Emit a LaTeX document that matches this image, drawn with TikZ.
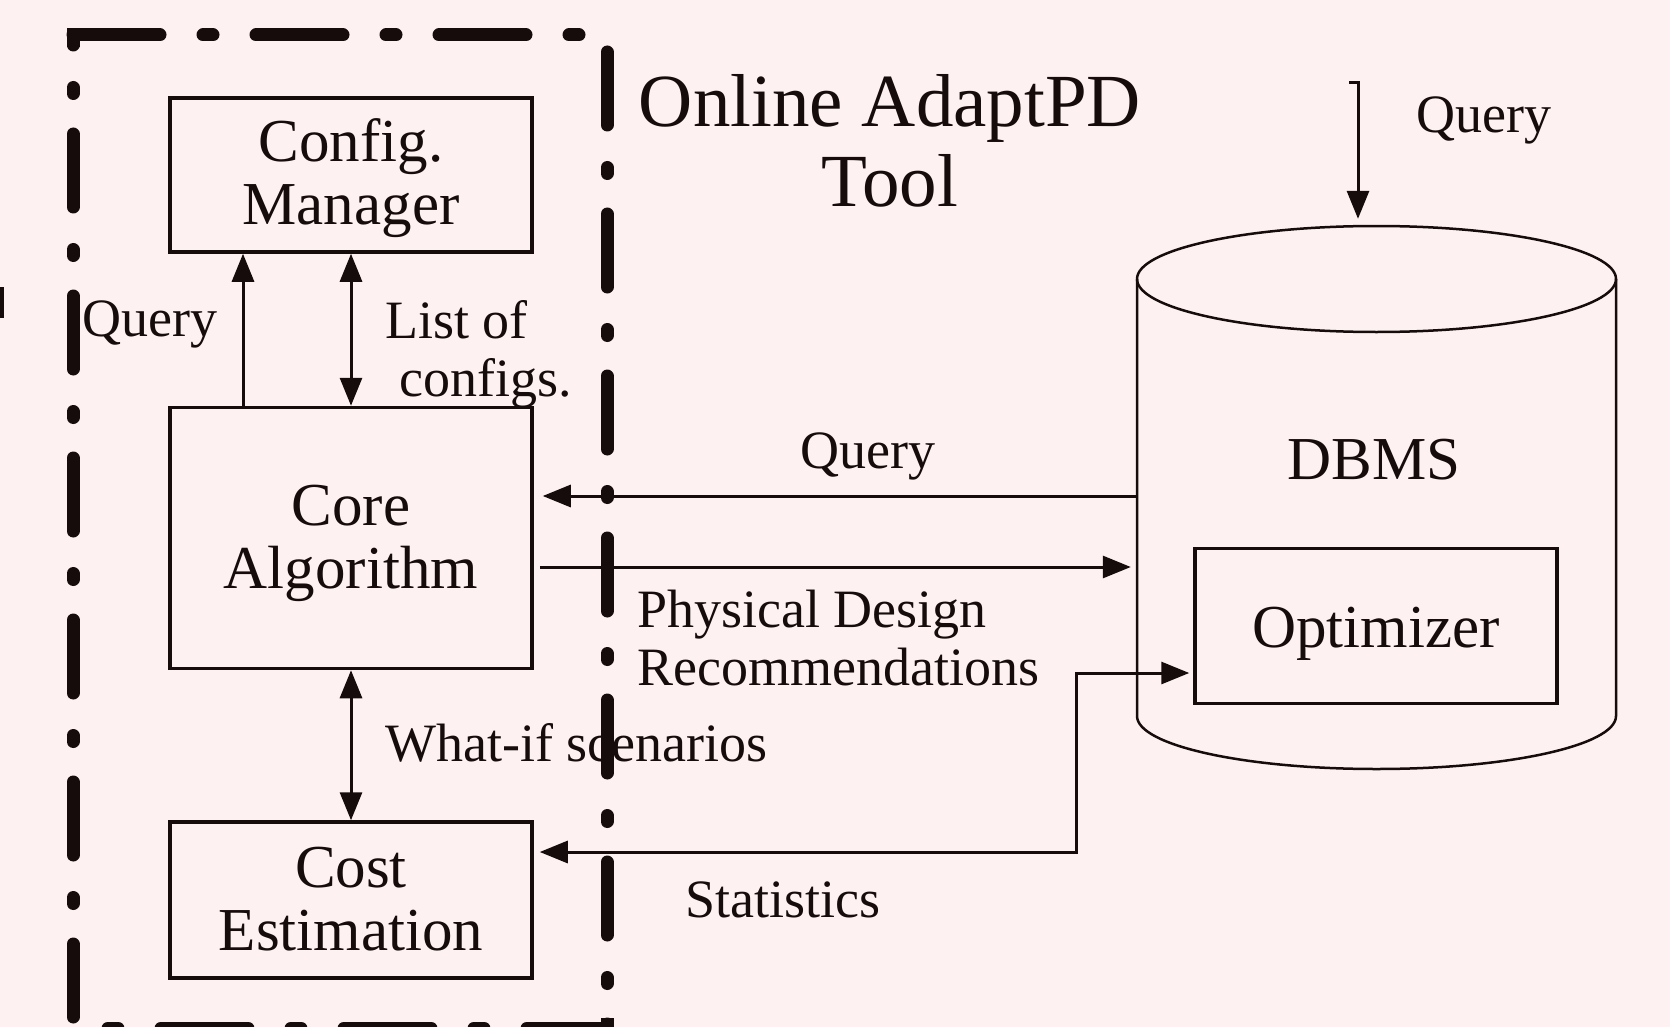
\documentclass[tikz,border=0pt]{standalone}
\usepackage{fontspec}
\setmainfont{Liberation Serif}
\usetikzlibrary{arrows.meta}
\definecolor{paper}{RGB}{253,242,241}
\definecolor{ink}{RGB}{22,12,12}

\begin{document}
\begin{tikzpicture}[x=1pt,y=-1pt,
  every node/.style={text=ink},
  box/.style={draw=ink, line width=3.5pt, inner sep=0pt, align=center,
    font=\fontsize{61}{63}\selectfont, text height=110pt, text depth=10pt},
  lbl/.style={inner sep=0pt, font=\fontsize{54}{58}\selectfont},
  link/.style={draw=ink, line width=3pt, -{Triangle[length=28pt,width=22pt]}},
  dlink/.style={draw=ink, line width=3pt,
    {Triangle[length=28pt,width=22pt]}-{Triangle[length=28pt,width=22pt]}},
  rim/.style={draw=ink, line width=13pt, line cap=round},
  hrim/.style={rim, dash pattern=on 87pt off 43pt on 10pt off 43pt},
  vrim/.style={rim, dash pattern=on 73pt off 42.5pt on 6pt off 40.5pt},
  shell/.style={draw=ink, line width=2.5pt},
]
% page background
\fill[paper] (0,0) rectangle (1670,1027);
\useasboundingbox (0,0) rectangle (1670,1027);

% tool components
\node[box, minimum width=362pt, minimum height=154pt] (cfg)  at (351,175) {Config.\\Manager};
\node[box, minimum width=362pt, minimum height=261pt] (core) at (351,538) {Core\\Algorithm};
\node[box, minimum width=362pt, minimum height=156pt] (cost) at (351,900) {Cost\\Estimation};

% DBMS cylinder
\node[minimum width=479pt, minimum height=543pt, inner sep=0pt] (db) at (1376.5,497.5) {};
\draw[shell] (1376.5,279) ellipse [x radius=239.5pt, y radius=53pt];
\draw[shell] (1137,279) -- (1137,716)
  arc[start angle=180, end angle=360, x radius=239.5pt, y radius=53pt] -- (1616,279);
\node[font=\fontsize{61}{62}\selectfont, inner sep=0pt] (dbms) at (1374,460) {DBMS};
\node[box, minimum width=362pt, minimum height=155pt, text height=50pt, text depth=8pt] (opt) at (1376,626) {Optimizer};

% labels
\node[font=\fontsize{75}{80}\selectfont, align=center, inner sep=0pt] (ttl) at (890,141) {Online AdaptPD\\Tool};
\node[lbl] (lq1) at (150,324) {Query};
\node[lbl, anchor=west, align=left] (lcf) at (385,354) {List of\\\hspace{14pt}configs.};
\node[lbl, anchor=west] (lwi) at (385,743) {What-if scenarios};
\node[lbl] (lq2) at (868,456) {Query};
\node[lbl, anchor=west, align=left] (lpd) at (637,638) {Physical Design\\Recommendations};
\node[lbl] (lst) at (783,900) {Statistics};
\node[lbl] (lq3) at (1484,120) {Query};

% connectors inside the tool
\draw[link] ([xshift=-108pt]core.north) -- ([xshift=-108pt]cfg.south);
\draw[dlink] (cfg.south) -- (core.north);
\draw[dlink] (core.south) -- (cost.north);

% connectors between tool and DBMS
\draw[link, shorten >=9pt] ([yshift=1.5pt]db.west) -- ([yshift=42pt]core.east);
\draw[link, shorten >=6pt] ([xshift=6pt,yshift=-29pt]core.east) -- ([yshift=-69.5pt]db.west);
\coordinate (bend) at (1076,673);
\draw[dlink, shorten <=6pt, shorten >=4pt] ([yshift=48pt]cost.east) -| (bend) -- ([yshift=-47pt]opt.west);

% incoming query
\coordinate (qin) at (1358,83);
\draw[link, shorten >=7pt] ([xshift=-9pt]qin) -- (qin) -- (qin |- db.north);

% dash-dot boundary of the tool, one side at a time
\draw[hrim] (73,35) -- (607,35);
\draw[vrim, dash phase=63pt] (73,35) -- (73,1028);
\draw[vrim, dash phase=145pt] (607,35) -- (607,1028);
\draw[hrim, dash phase=95pt] (73,1028) -- (607,1028);
\draw[rim, line cap=butt, line join=miter] (73,47) -- (73,35) -- (85,35);
\draw[rim, line cap=butt, line join=miter] (607,1018) -- (607,1028) -- (595,1028);

% edge fragment at the left border
\draw[ink, line width=8pt] (0,287) -- (0,318);
\end{tikzpicture}
\end{document}
